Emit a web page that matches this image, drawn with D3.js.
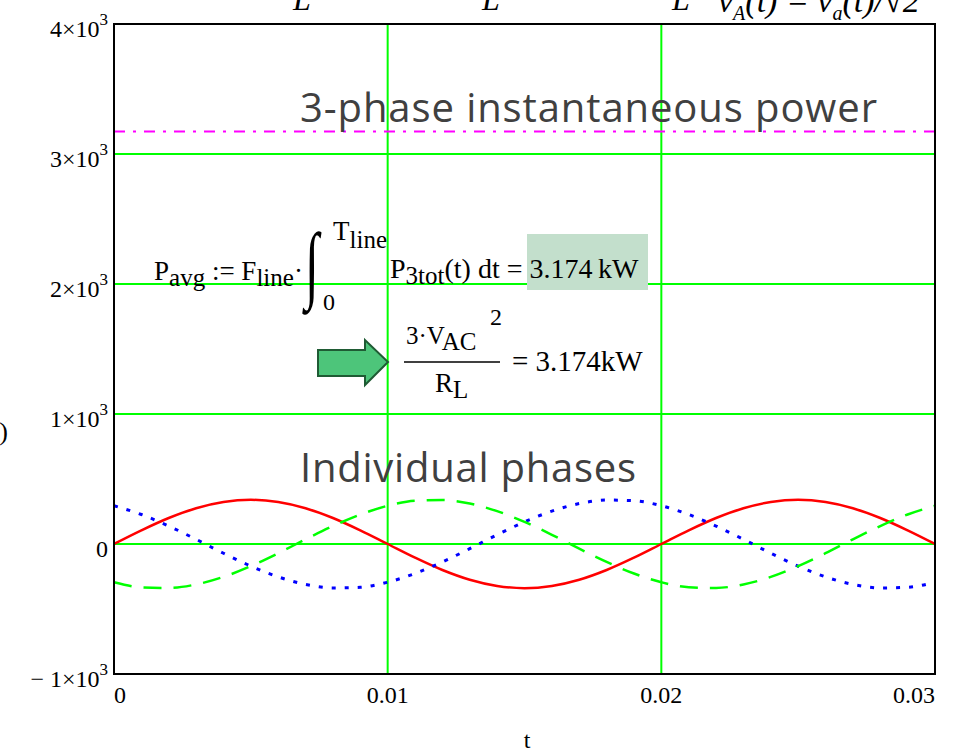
<!DOCTYPE html>
<head>
<meta charset="utf-8">
<style type="text/css">
body { margin: 0; background: #fff; }
.serif { font-family: "Liberation Serif", "Times New Roman", serif; fill: #000; }
.sans { font-family: "Open Sans", sans-serif; fill: #404040; }
.grid { stroke: #00ff00; stroke-width: 2; }
</style>
</head>
<body>
<script src="https://d3js.org/d3.v7.min.js"></script>
<script type="text/javascript">
  // time samples (s) and phase values (W)
  var tVals = [0, 0.001, 0.002, 0.003, 0.004, 0.005, 0.006, 0.007, 0.008, 0.009,
               0.010, 0.011, 0.012, 0.013, 0.014, 0.015, 0.016, 0.017, 0.018, 0.019,
               0.020, 0.021, 0.022, 0.023, 0.024, 0.025, 0.026, 0.027, 0.028, 0.029, 0.030];
  var phaseA = [0, 105, 200, 275, 323, 340, 323, 275, 200, 105,
                0, -105, -200, -275, -323, -340, -323, -275, -200, -105,
                0, 105, 200, 275, 323, 340, 323, 275, 200, 105, 0];
  var phaseB = [-294, -333, -338, -311, -253, -170, -71, 36, 138, 227,
                294, 333, 338, 311, 253, 170, 71, -36, -138, -227,
                -294, -333, -338, -311, -253, -170, -71, 36, 138, 227, 294];
  var phaseC = [294, 227, 138, 36, -71, -170, -253, -311, -338, -333,
                -294, -227, -138, -36, 71, 170, 253, 311, 338, 333,
                294, 227, 138, 36, -71, -170, -253, -311, -338, -333, -294];
  var pTotal = 3174;
  var xTicks = [0, 0.01, 0.02, 0.03];
  var xTickLabels = ['0', '0.01', '0.02', '0.03'];
  var yTicks = [-1000, 0, 1000, 2000, 3000, 4000];
  var yTickLabels = [['\u2212 1\u00d710', '3'], ['0', ''], ['1\u00d710', '3'], ['2\u00d710', '3'], ['3\u00d710', '3'], ['4\u00d710', '3']];

  var W = 973, H = 749;
  var mLeft = 114, mRight = 935, mTop = 24, mBottom = 674;

  var svg = d3.select('body').append('svg')
          .attr('width', W)
          .attr('height', H);

  var x = d3.scaleLinear().domain([0, 0.03]).range([mLeft, mRight]);
  var y = d3.scaleLinear().domain([-1000, 4000]).range([mBottom, mTop]);

  // cut off text along the top edge
  [293, 482, 672].forEach(function(px){
    svg.append('text').attr('class', 'serif').attr('x', px).attr('y', 10)
       .attr('font-size', 32).attr('font-style', 'italic').text('L');
  });
  var topEq = svg.append('text').attr('class', 'serif').attr('x', 718).attr('y', 12)
     .attr('font-size', 34).attr('font-style', 'italic');
  topEq.append('tspan').text('v');
  topEq.append('tspan').attr('font-size', 20).attr('dy', 8).text('A');
  topEq.append('tspan').attr('dy', -8).text('(t) = v');
  topEq.append('tspan').attr('font-size', 20).attr('dy', 8).text('a');
  topEq.append('tspan').attr('dy', -8).text('(t)/\u221a2');

  // y axis label, mostly cut off
  svg.append('text').attr('class', 'serif').attr('x', 8).attr('y', 440)
     .attr('text-anchor', 'end').attr('font-size', 26).text('P(t)');

  // grid
  svg.selectAll('.vgrid').data(xTicks.slice(1, -1)).enter().append('line')
     .attr('class', 'grid vgrid')
     .attr('x1', function(d){ return x(d); }).attr('x2', function(d){ return x(d); })
     .attr('y1', mTop).attr('y2', mBottom);
  svg.selectAll('.hgrid').data(yTicks.slice(1, -1)).enter().append('line')
     .attr('class', 'grid hgrid')
     .attr('x1', mLeft).attr('x2', mRight)
     .attr('y1', function(d){ return y(d); }).attr('y2', function(d){ return y(d); });

  // total power
  svg.append('line')
     .attr('x1', mLeft).attr('x2', mRight)
     .attr('y1', y(pTotal)).attr('y2', y(pTotal))
     .attr('stroke', '#ff00ff').attr('stroke-width', 2)
     .attr('stroke-dasharray', '11,8,3,8');

  var line = d3.line()
     .x(function(d, i){ return x(tVals[i]); })
     .y(function(d){ return y(d); })
     .curve(d3.curveMonotoneX);

  svg.append('path').datum(phaseA).attr('d', line)
     .attr('fill', 'none').attr('stroke', '#ff0000').attr('stroke-width', 2.5);
  svg.append('path').datum(phaseC).attr('d', line)
     .attr('fill', 'none').attr('stroke', '#0000ff').attr('stroke-width', 3)
     .attr('stroke-dasharray', '4,9');
  svg.append('path').datum(phaseB).attr('d', line)
     .attr('fill', 'none').attr('stroke', '#00ff00').attr('stroke-width', 2.5)
     .attr('stroke-dasharray', '18,12');

  // frame
  svg.append('rect')
     .attr('x', mLeft).attr('y', mTop)
     .attr('width', mRight - mLeft).attr('height', mBottom - mTop)
     .attr('fill', 'none').attr('stroke', 'black').attr('stroke-width', 2);

  // tick labels
  svg.selectAll('.xlab').data(xTicks).enter().append('text')
     .attr('class', 'serif xlab')
     .attr('x', function(d){ return x(d); })
     .attr('y', 703)
     .attr('text-anchor', function(d, i){ return i === xTicks.length - 1 ? 'end' : (i === 0 ? 'start' : 'middle'); })
     .attr('font-size', 24)
     .text(function(d, i){ return xTickLabels[i]; });

  var ylab = svg.selectAll('.ylab').data(yTicks).enter().append('text')
     .attr('class', 'serif ylab')
     .attr('x', 108)
     .attr('y', function(d){ return y(d) + 13; })
     .attr('text-anchor', 'end')
     .attr('font-size', 24);
  ylab.append('tspan').text(function(d, i){ return yTickLabels[i][0]; });
  ylab.append('tspan').attr('font-size', 17).attr('dy', -12)
     .text(function(d, i){ return yTickLabels[i][1]; });

  svg.append('text').attr('class', 'serif').attr('x', 527).attr('y', 748)
     .attr('text-anchor', 'middle').attr('font-size', 24).text('t');

  // annotations
  svg.append('text').attr('class', 'sans').attr('x', 300).attr('y', 122)
     .attr('font-size', 40).attr('textLength', 577).text('3-phase instantaneous power');
  svg.append('text').attr('class', 'sans').attr('x', 300).attr('y', 482)
     .attr('font-size', 40).attr('textLength', 336).text('Individual phases');

  // P_avg formula
  svg.append('rect').attr('x', 527).attr('y', 234).attr('width', 121).attr('height', 56)
     .attr('fill', '#c3dfcc');
  var f1 = svg.append('text').attr('class', 'serif').attr('x', 154).attr('y', 280).attr('font-size', 27);
  f1.append('tspan').text('P');
  f1.append('tspan').attr('dy', 6).attr('font-size', 25).text('avg');
  f1.append('tspan').attr('dy', -6).text(' := F');
  f1.append('tspan').attr('dy', 6).attr('font-size', 25).text('line');
  f1.append('tspan').attr('dy', -6).text('\u00b7');
  svg.append('text').attr('class', 'serif').attr('x', 305).attr('y', 292)
     .attr('font-size', 68).attr('transform', 'translate(305,292) scale(0.75,1.25) translate(-305,-292)')
     .text('\u222b');
  var f2 = svg.append('text').attr('class', 'serif').attr('x', 333).attr('y', 240).attr('font-size', 27);
  f2.append('tspan').text('T');
  f2.append('tspan').attr('dy', 8).attr('font-size', 25).text('line');
  svg.append('text').attr('class', 'serif').attr('x', 323).attr('y', 310).attr('font-size', 24).text('0');
  var f3 = svg.append('text').attr('class', 'serif').attr('x', 390).attr('y', 278).attr('font-size', 28);
  f3.append('tspan').text('P');
  f3.append('tspan').attr('dy', 6).attr('font-size', 25).text('3tot');
  f3.append('tspan').attr('dy', -6).text('(t) dt = 3.174\u2009kW');

  // arrow
  svg.append('path')
     .attr('d', 'M318,350 L365,350 L365,340 L388,362 L365,385 L365,376 L318,376 Z')
     .attr('fill', '#4dc57a').attr('stroke', '#1f5b34').attr('stroke-width', 2);

  // fraction
  var n1 = svg.append('text').attr('class', 'serif').attr('x', 406).attr('y', 344).attr('font-size', 25);
  n1.append('tspan').text('3\u00b7V');
  n1.append('tspan').attr('dy', 6).attr('font-size', 25).text('AC');
  svg.append('text').attr('class', 'serif').attr('x', 490).attr('y', 325).attr('font-size', 24).text('2');
  svg.append('line').attr('x1', 404).attr('x2', 500).attr('y1', 362).attr('y2', 362)
     .attr('stroke', '#000').attr('stroke-width', 1.5);
  var d1 = svg.append('text').attr('class', 'serif').attr('x', 435).attr('y', 392).attr('font-size', 27);
  d1.append('tspan').text('R');
  d1.append('tspan').attr('dy', 6).attr('font-size', 25).text('L');
  svg.append('text').attr('class', 'serif').attr('x', 512).attr('y', 371).attr('font-size', 29)
     .text('= 3.174kW');
</script>
</body>
